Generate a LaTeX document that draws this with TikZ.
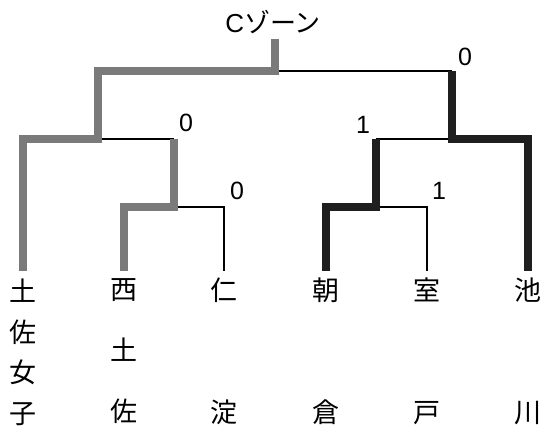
\documentclass[tikz,border=0pt]{standalone}
\usepackage{fontspec}
\setmainfont{Liberation Sans}
\newfontfamily\cjk{Noto Sans CJK JP}
\begin{document}
\begin{tikzpicture}[x=1pt,y=-1pt,
  thinline/.style={line width=2pt,black,line join=miter},
  winline/.style={line width=7.5pt,black!52,line join=miter},
  darkline/.style={line width=7.5pt,black!88,line join=miter},
  score/.style={inner sep=0pt,font=\fontsize{25}{25}\selectfont},
  team/.style={inner sep=0pt,anchor=north,align=center}]
\useasboundingbox (0,0) rectangle (547,430);
% title
\node[inner sep=0pt,font=\fontsize{26}{26}\selectfont] (title) at (273,22) {C\cjk ゾーン};
% teams
\node[team,font=\cjk\fontsize{27}{40.5}\selectfont] (t1) at (23,279) {土\\佐\\女\\子};
\node[team,font=\cjk\fontsize{27}{61}\selectfont] (t2) at (124,278) {西\\土\\佐};
\node[team,font=\cjk\fontsize{27}{122}\selectfont] (t3) at (224,278) {仁\\淀};
\node[team,font=\cjk\fontsize{27}{122}\selectfont] (t4) at (326,278) {朝\\倉};
\node[team,font=\cjk\fontsize{27}{122}\selectfont] (t5) at (427,278) {室\\戸};
\node[team,font=\cjk\fontsize{27}{122}\selectfont] (t6) at (528,278) {池\\川};
% bracket joints
\coordinate (root) at (275,39);
\coordinate (top) at (275,71);
\coordinate (jl) at (98,139);
\coordinate (jr) at (452,139);
\coordinate (jll) at (174,207);
\coordinate (jrr) at (376,207);
\coordinate (b1) at (23,271);
% thin (losing) lines
\draw[thinline] (t3.north |- b1) |- (jll);
\draw[thinline] (t5.north |- b1) |- (jrr);
\draw[thinline] (jl) -- (jll |- jl);
\draw[thinline] (jrr |- jr) -- (jr);
\draw[thinline] (top) -- (jr |- top);
% winning paths
\draw[winline] (t2.north |- b1) |- (jll) -- (jll |- jl);
\draw[winline] (t1.north |- b1) |- (jl) |- (top) -- (root);
\draw[darkline] (t4.north |- b1) |- (jrr) -- (jrr |- jr);
\draw[darkline] (t6.north |- b1) |- (jr) -- (jr |- top);
% scores
\node[score] (s1) at (465,57) {0};
\node[score] (s2) at (186,123) {0};
\node[score] (s3) at (363,125) {1};
\node[score] (s4) at (237,191) {0};
\node[score] (s5) at (439,191) {1};
\end{tikzpicture}
\end{document}
